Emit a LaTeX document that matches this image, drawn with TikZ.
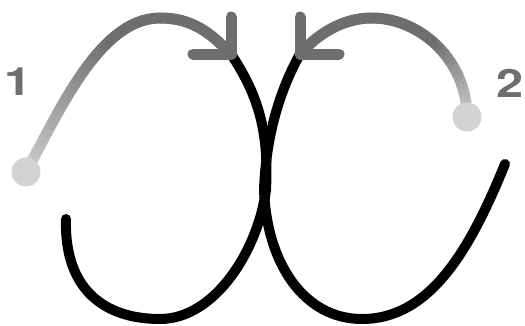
\documentclass[tikz,border=0pt]{standalone}
\usepackage{fontspec}
\newfontfamily\numfont{TeX Gyre Heros}[BoldFont={TeX Gyre Heros Bold}]
\definecolor{arrowdark}{HTML}{6E6E6E}
\definecolor{arrowlight}{HTML}{D3D3D3}
\tikzset{
  loopline/.style={line width=10pt, line cap=round, draw=black},
  shaft/.style={line width=11pt, line cap=round},
  arrowarm/.style={line width=11pt, line cap=round, line join=round, draw=arrowdark},
  startdot/.style={circle, fill=arrowlight, minimum size=29pt, inner sep=0pt},
  numlabel/.style={text=arrowdark, font={\numfont\bfseries\fontsize{39}{42}\selectfont}, inner sep=0pt, xscale=1.25}
}
\begin{document}
\begin{tikzpicture}[x=1pt,y=-1pt]
\useasboundingbox (0,0) rectangle (525,325);
% key points
\coordinate (d1) at (26,172);
\coordinate (t1) at (231,54);
\coordinate (d2) at (467,117);
\coordinate (t2) at (300,54);
\coordinate (e1) at (66,219);
\coordinate (e2) at (505,164);
\coordinate (h1a) at (231,17);
\coordinate (h1b) at (193,54);
\coordinate (h2a) at (300,17);
\coordinate (h2b) at (339,54);
% black loops
\draw[loopline] (e1) .. controls (64,290) and (105,319) .. (160,319)
  .. controls (215,319) and (258,250) .. (266,190)
  .. controls (269,130) and (258,95) .. (t1);
\draw[loopline] (t2) .. controls (280,90) and (266,135) .. (264,190)
  .. controls (267,265) and (305,319) .. (362,319)
  .. controls (430,319) and (470,250) .. (e2);
% sample arrow paths
\path (d1) .. controls (60,110) and (100,18) .. (160,18)
  \foreach \i [evaluate=\i as \t using \i/30] in {0,...,30} { coordinate[pos=\t] (pa\i) };
\path (160,18) .. controls (195,18) and (213,36) .. (t1)
  \foreach \i [evaluate=\i as \t using \i/30] in {0,...,30} { coordinate[pos=\t] (pb\i) };
\path (d2) .. controls (467,60) and (420,18) .. (372,18)
  \foreach \i [evaluate=\i as \t using \i/30] in {0,...,30} { coordinate[pos=\t] (qa\i) };
\path (372,18) .. controls (340,18) and (315,37) .. (t2)
  \foreach \i [evaluate=\i as \t using \i/30] in {0,...,30} { coordinate[pos=\t] (qb\i) };
% gradient shafts
\foreach \i [remember=\i as \j (initially 0), evaluate=\i as \p using {min(100,140*\i/30)}] in {1,...,30}
  { \draw[shaft, color=arrowdark!\p!arrowlight] (pa\j) -- (pa\i); }
\foreach \i [remember=\i as \j (initially 0)] in {1,...,30}
  { \draw[shaft, color=arrowdark] (pb\j) -- (pb\i); }
\foreach \i [remember=\i as \j (initially 0), evaluate=\i as \p using {min(100,170*\i/30)}] in {1,...,30}
  { \draw[shaft, color=arrowdark!\p!arrowlight] (qa\j) -- (qa\i); }
\foreach \i [remember=\i as \j (initially 0)] in {1,...,30}
  { \draw[shaft, color=arrowdark] (qb\j) -- (qb\i); }
% arrowheads
\draw[arrowarm] (h1a) -- (t1) -- (h1b);
\draw[arrowarm] (h2a) -- (t2) -- (h2b);
% start dots
\node[startdot] (s1) at (d1) {};
\node[startdot] (s2) at (d2) {};
% labels
\node[numlabel] (n1) at (18,81.5) {1};
\node[numlabel] (n2) at (510,83) {2};
\end{tikzpicture}
\end{document}
